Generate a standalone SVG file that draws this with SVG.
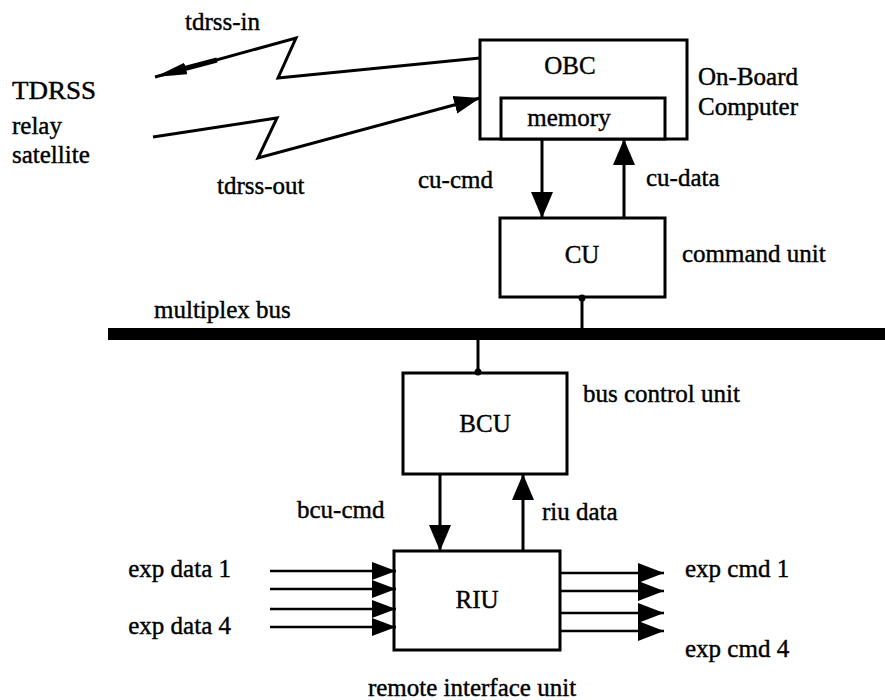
<svg xmlns="http://www.w3.org/2000/svg" width="885" height="700" viewBox="0 0 885 700">
<style>
text{font-family:"Liberation Serif","Times New Roman",serif;font-size:25px;fill:#000;stroke:#000;stroke-width:0.4}
.mid{text-anchor:middle}
.end{text-anchor:end}
.box{fill:#fff;stroke:#000;stroke-width:3}
.ln{fill:none;stroke:#000;stroke-width:3;stroke-linejoin:miter}
.io{fill:none;stroke:#000;stroke-width:2.5}
</style>
<defs>
<marker id="av" markerUnits="userSpaceOnUse" markerWidth="28" markerHeight="24" refX="26" refY="11" orient="auto"><path d="M0,0 L26,11 L0,22 z" fill="#000"/></marker>
<marker id="ai" markerUnits="userSpaceOnUse" markerWidth="26" markerHeight="20" refX="24" refY="9" orient="auto"><path d="M0,0 L24,9 L0,18 z" fill="#000"/></marker>
<marker id="ao" markerUnits="userSpaceOnUse" markerWidth="28" markerHeight="22" refX="26" refY="10" orient="auto"><path d="M0,0 L26,10 L0,20 z" fill="#000"/></marker>
<marker id="az" markerUnits="userSpaceOnUse" markerWidth="34" markerHeight="14" refX="32" refY="6" orient="auto"><path d="M0,0 L32,6 L0,12 z" fill="#000"/></marker>
<marker id="ab" markerUnits="userSpaceOnUse" markerWidth="28" markerHeight="22" refX="26" refY="10" orient="auto"><path d="M0,1 L26,10 L0,19 z" fill="#000"/></marker>
</defs>
<rect width="885" height="700" fill="#fff"/>

<g id="tdrss">
<text x="12" y="99" textLength="84" lengthAdjust="spacingAndGlyphs">TDRSS</text>
<text x="12" y="134">relay</text>
<text x="12" y="163">satellite</text>
</g>

<g id="obc">
<rect class="box" x="480" y="40" width="207" height="99"/>
<text class="mid" x="570" y="74">OBC</text>
<text x="698" y="85">On-Board</text>
<text x="698" y="115">Computer</text>
</g>
<g id="memory">
<rect class="box" x="501" y="98" width="164" height="41"/>
<text class="mid" x="569" y="126">memory</text>
</g>

<g id="cu">
<rect class="box" x="500" y="218" width="165" height="79"/>
<text class="mid" x="582" y="263">CU</text>
<text x="682" y="262">command unit</text>
</g>

<g id="bus">
<rect x="108" y="328" width="777" height="12" fill="#000"/>
<text x="154" y="318">multiplex bus</text>
</g>

<g id="bcu">
<rect class="box" x="403" y="373" width="164" height="101"/>
<text class="mid" x="485" y="432">BCU</text>
<text x="583" y="402">bus control unit</text>
</g>

<g id="riu">
<rect class="box" x="394" y="551" width="166" height="99"/>
<text class="mid" x="477" y="608">RIU</text>
<text class="mid" x="472" y="696">remote interface unit</text>
</g>

<g id="exp-in">
<text class="end" x="231" y="577">exp data 1</text>
<text class="end" x="231" y="634">exp data 4</text>
</g>
<g id="exp-out">
<text x="685" y="577">exp cmd 1</text>
<text x="685" y="657">exp cmd 4</text>
</g>

<g id="connectors">
<polyline class="ln" points="480,58 278,78 296,38 155,77" marker-end="url(#az)"/>
<line x1="183" y1="69" x2="217" y2="60" stroke="#000" stroke-width="5"/>
<polyline class="ln" points="153,137 277,118 258,158 480,98" marker-end="url(#ab)"/>
<text x="185" y="30">tdrss-in</text>
<text x="217" y="194">tdrss-out</text>

<line class="ln" x1="542" y1="139" x2="542" y2="218" marker-end="url(#av)"/>
<line class="ln" x1="624" y1="218" x2="624" y2="139" marker-end="url(#av)"/>
<text x="418" y="188">cu-cmd</text>
<text x="646" y="186">cu-data</text>

<line class="ln" x1="582" y1="297" x2="582" y2="330"/>
<circle cx="582" cy="298" r="3.5" fill="#000"/>
<line class="ln" x1="478" y1="338" x2="478" y2="373"/>
<circle cx="478" cy="372" r="3.5" fill="#000"/>

<line class="ln" x1="440" y1="474" x2="440" y2="551" marker-end="url(#av)"/>
<line class="ln" x1="523" y1="551" x2="523" y2="474" marker-end="url(#av)"/>
<text x="297" y="518">bcu-cmd</text>
<text x="542" y="520">riu data</text>

<line class="io" x1="270" y1="571" x2="396" y2="571" marker-end="url(#ai)"/>
<line class="io" x1="270" y1="589" x2="396" y2="589" marker-end="url(#ai)"/>
<line class="io" x1="270" y1="609" x2="396" y2="609" marker-end="url(#ai)"/>
<line class="io" x1="270" y1="627" x2="396" y2="627" marker-end="url(#ai)"/>

<line class="io" x1="560" y1="573" x2="664" y2="573" marker-end="url(#ao)"/>
<line class="io" x1="560" y1="591" x2="664" y2="591" marker-end="url(#ao)"/>
<line class="io" x1="560" y1="613" x2="664" y2="613" marker-end="url(#ao)"/>
<line class="io" x1="560" y1="631" x2="664" y2="631" marker-end="url(#ao)"/>
</g>
</svg>
